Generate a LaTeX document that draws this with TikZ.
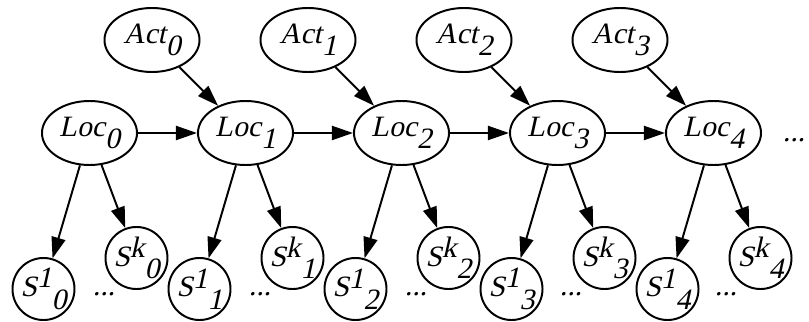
\documentclass[tikz,border=0pt]{standalone}
\usepackage{fontspec}
\newfontfamily\graphfont{Liberation Serif}[FakeSlant=0.22]
\usepackage{tikz}
\usetikzlibrary{arrows.meta, shapes.geometric}

\newcommand{\lowtxt}[2]{\makebox[0pt]{#1\raisebox{-0.42em}{#2}}}
\newcommand{\senstxt}[2]{\makebox[0pt]{S\raisebox{0.3em}{#1}\raisebox{-0.42em}{#2}}}

\begin{document}
\begin{tikzpicture}[x=0.025cm, y=-0.025cm,
    font=\graphfont\fontsize{21}{23}\selectfont,
    line width=1.4pt,
    varnode/.style={draw, ellipse, inner sep=0pt, minimum width=2.375cm, minimum height=1.6cm},
    sensnode/.style={draw, circle, inner sep=0pt, minimum size=1.55cm},
    link/.style={-{Triangle[length=15pt, width=10pt]}}]
  \useasboundingbox (0,0) rectangle (809,322);

  % actions
  \node[varnode] (act0) at (152,40) {\lowtxt{Act}{0}};
  \node[varnode] (act1) at (308,40) {\lowtxt{Act}{1}};
  \node[varnode] (act2) at (464,40) {\lowtxt{Act}{2}};
  \node[varnode] (act3) at (620,40) {\lowtxt{Act}{3}};

  % locations
  \node[varnode] (loc0) at (89.5,133) {\lowtxt{Loc}{0}};
  \node[varnode] (loc1) at (245.5,133) {\lowtxt{Loc}{1}};
  \node[varnode] (loc2) at (401.5,133) {\lowtxt{Loc}{2}};
  \node[varnode] (loc3) at (557.5,133) {\lowtxt{Loc}{3}};
  \node[varnode] (loc4) at (713.5,133) {\lowtxt{Loc}{4}};
  \node[inner sep=0pt] (more) at (794,140) {...};

  % sensor readings
  \node[sensnode] (sa0) at (43.5,289) {\senstxt{1}{0}};
  \node[sensnode] (sk0) at (136.5,258) {\senstxt{k}{0}};
  \node[sensnode] (sa1) at (199.5,289) {\senstxt{1}{1}};
  \node[sensnode] (sk1) at (292.5,258) {\senstxt{k}{1}};
  \node[sensnode] (sa2) at (355.5,289) {\senstxt{1}{2}};
  \node[sensnode] (sk2) at (448.5,258) {\senstxt{k}{2}};
  \node[sensnode] (sa3) at (511.5,289) {\senstxt{1}{3}};
  \node[sensnode] (sk3) at (604.5,258) {\senstxt{k}{3}};
  \node[sensnode] (sa4) at (667.5,289) {\senstxt{1}{4}};
  \node[sensnode] (sk4) at (760.5,258) {\senstxt{k}{4}};

  \node[inner sep=0pt] (gap0) at (104,294) {...};
  \node[inner sep=0pt] (gap1) at (260,294) {...};
  \node[inner sep=0pt] (gap2) at (416,294) {...};
  \node[inner sep=0pt] (gap3) at (571,294) {...};
  \node[inner sep=0pt] (gap4) at (726,294) {...};

  % transitions
  \draw[link] (loc0) -- (loc1);
  \draw[link] (loc1) -- (loc2);
  \draw[link] (loc2) -- (loc3);
  \draw[link] (loc3) -- (loc4);
  \draw[link] (act0) -- (loc1);
  \draw[link] (act1) -- (loc2);
  \draw[link] (act2) -- (loc3);
  \draw[link] (act3) -- (loc4);

  % observations
  \draw[link] (loc0) -- (sa0);
  \draw[link] (loc0) -- (sk0);
  \draw[link] (loc1) -- (sa1);
  \draw[link] (loc1) -- (sk1);
  \draw[link] (loc2) -- (sa2);
  \draw[link] (loc2) -- (sk2);
  \draw[link] (loc3) -- (sa3);
  \draw[link] (loc3) -- (sk3);
  \draw[link] (loc4) -- (sa4);
  \draw[link] (loc4) -- (sk4);
\end{tikzpicture}
\end{document}
